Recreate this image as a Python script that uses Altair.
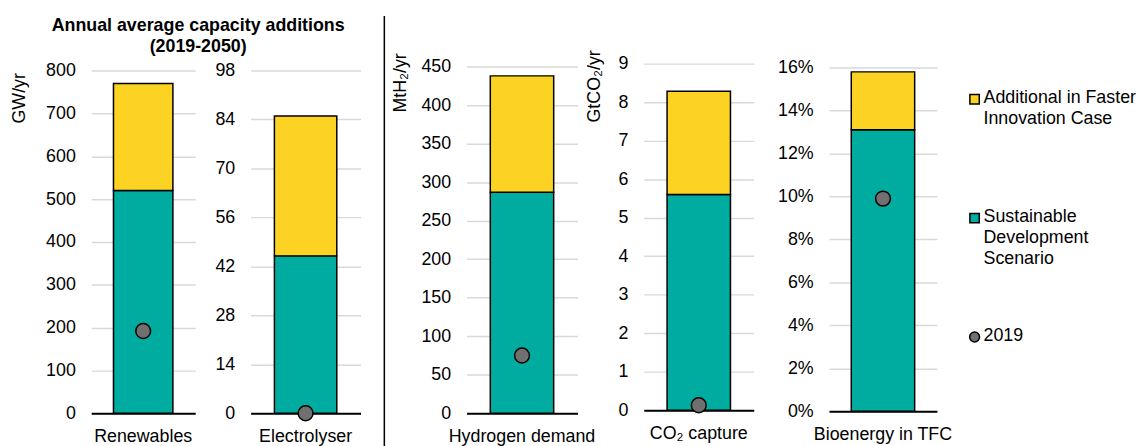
import altair as alt
import pandas as pd

# ---------------- data ----------------
categories = ["Renewables", "Electrolyser", "Hydrogen demand", "CO₂ capture", "Bioenergy in TFC"]
sds_values = [520, 45, 287, 5.6, 0.131]
total_values = [770, 85, 438, 8.28, 0.158]
values_2019 = [192, 0, 75, 0.13, 0.099]
axis_titles = ["GW/yr", "", "MtH₂/yr", "GtCO₂/yr", ""]
tick_values = [
    [0, 100, 200, 300, 400, 500, 600, 700, 800],
    [0, 14, 28, 42, 56, 70, 84, 98],
    [0, 50, 100, 150, 200, 250, 300, 350, 400, 450],
    [0, 1, 2, 3, 4, 5, 6, 7, 8, 9],
    [0, 0.02, 0.04, 0.06, 0.08, 0.10, 0.12, 0.14, 0.16],
]
tick_formats = ["d", "d", "d", "d", ".0%"]
legend_labels = ["Additional in Faster\nInnovation Case", "Sustainable\nDevelopment\nScenario", "2019"]
legend_order = [0, 1, 2]
title_lines = ["Annual average capacity additions", "(2019-2050)"]

# ---------------- style / layout ----------------
YELLOW = "#FDD323"
TEAL = "#00AC9F"
GREY = "#707070"
legend_fills = [YELLOW, TEAL, GREY]
legend_shapes = ["square", "square", "circle"]
legend_sizes = [90, 90, 100]

panel_widths = [105, 111, 112, 111, 109]
panel_heights = [353, 353, 353, 350, 351]
domain_max = [816.2, 99.98, 453.9, 9.0, 0.16184]
bar_widths = [60, 63, 64, 64, 64]
axis_extent = [46, 36, 46, 26, 50]
title_pad = [17, 0, 12, 15, 0]
title_y = [9, 0, -11, -14, 0]
spacers = [56, 107, 67, 76, 19]

dummy = pd.DataFrame({"a": [0]})


def panel(i):
    df = pd.DataFrame({
        "cat": [categories[i]],
        "sds": [sds_values[i]],
        "total": [total_values[i]],
        "y2019": [values_2019[i]],
    })
    scale = alt.Scale(domain=[0, domain_max[i]], nice=False, zero=True)
    ax_kwargs = dict(
        values=tick_values[i], format=tick_formats[i], domain=False, ticks=False,
        grid=True, gridColor="#d9d9d9", gridWidth=1.5, labelPadding=16,
        minExtent=axis_extent[i], maxExtent=axis_extent[i],
        labelFontSize=18, labelColor="black", labelFlush=False,
    )
    if axis_titles[i]:
        ax_kwargs.update(title=axis_titles[i], titlePadding=title_pad[i], titleAnchor="end",
                         titleY=title_y[i], titleFontSize=18, titleFontWeight="normal",
                         titleColor="black")
        ytitle = axis_titles[i]
    else:
        ytitle = ""
    yaxis = alt.Axis(**ax_kwargs)
    xenc = alt.X("cat:N", title=None, axis=alt.Axis(labelAngle=0, ticks=False, domain=True,
                                                 domainColor="black", domainWidth=2,
                                                 labelPadding=15, labelFontSize=18,
                                                 labelColor="black", grid=False, labelLimit=400))
    base = alt.Chart(df)
    teal = base.mark_bar(width=bar_widths[i], color=TEAL, stroke="black", strokeWidth=1.5).encode(
        x=xenc, y=alt.Y("sds:Q", scale=scale, axis=yaxis, title=ytitle))
    yellow = base.mark_bar(width=bar_widths[i], color=YELLOW, stroke="black", strokeWidth=1.5).encode(
        x=xenc, y=alt.Y("sds:Q", scale=scale, axis=yaxis, title=ytitle), y2="total:Q")
    pts = base.mark_circle(size=225, color=GREY, stroke="black", strokeWidth=1.5, opacity=1).encode(
        x=xenc, y=alt.Y("y2019:Q", scale=scale, axis=yaxis, title=ytitle))
    layers = [teal, yellow, pts]
    if i == 0:
        ttl = alt.Chart(dummy).mark_text(
            text=title_lines, fontWeight="bold", fontSize=18, align="center", baseline="top",
            lineHeight=21, color="black").encode(x=alt.value(108), y=alt.value(-47))
        layers.append(ttl)
    return alt.layer(*layers).properties(width=panel_widths[i], height=panel_heights[i])


def spacer(w, separator=False):
    layers = [alt.Chart(dummy).mark_point(opacity=0).encode(x=alt.value(0), y=alt.value(0))]
    if separator:
        layers.append(alt.Chart(dummy).mark_rule(color="black", strokeWidth=1.5).encode(
            x=alt.value(24), y=alt.value(-48), y2=alt.value(390)))
    return alt.layer(*layers).properties(width=w, height=350)


leg_df = pd.DataFrame({
    "label": legend_labels,
    "idx": legend_order,
    "fill": legend_fills,
    "shape": legend_shapes,
    "size": legend_sizes,
})
leg_y = alt.Y("idx:Q", scale=alt.Scale(domain=[0, 2], range=[36, 276]), axis=None)
leg_sym = alt.Chart(leg_df).mark_point(filled=True, stroke="black", strokeWidth=1.5, opacity=1).encode(
    x=alt.value(19), y=leg_y,
    fill=alt.Fill("fill:N", scale=None),
    shape=alt.Shape("shape:N", scale=None),
    size=alt.Size("size:Q", scale=None),
)
leg_txt = alt.Chart(leg_df).mark_text(align="left", baseline="top", dy=-10, fontSize=18,
                                      lineHeight=21, lineBreak="\n", color="black").encode(
    x=alt.value(28), y=leg_y, text="label:N")
legend = alt.layer(leg_sym, leg_txt).properties(width=170, height=353)

chart = alt.hconcat(
    panel(0), spacer(spacers[0]), panel(1), spacer(spacers[1], separator=True),
    panel(2), spacer(spacers[2]), panel(3), spacer(spacers[3]), panel(4),
    spacer(spacers[4]), legend,
    spacing=0, bounds="flush",
).properties(
    padding={"left": 3, "top": 5, "right": 0, "bottom": 0}
).configure(font="Liberation Sans").configure_view(stroke=None)

chart.save("out.html", embed_options={"renderer": "svg", "actions": False})
